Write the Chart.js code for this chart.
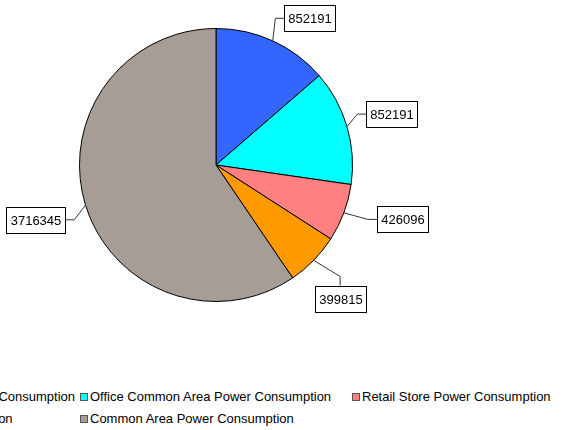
<!DOCTYPE html>
<html>
<head>
<meta charset="utf-8">
<script src="https://cdn.jsdelivr.net/npm/chart.js@4.4.1/dist/chart.umd.min.js"></script>
<style>
  html, body { margin: 0; padding: 0; background: #fff; overflow: hidden; }
  body { width: 563px; height: 430px; position: relative; }
  #pieChart { position: absolute; left: 0; top: 0; }
  .col { position: absolute; top: 386px; font-family: "Liberation Sans", Arial, sans-serif; font-size: 13px; color: #000; }
  .item { height: 22px; line-height: 22px; white-space: nowrap; }
  .box { display: inline-block; width: 6px; height: 6px; border: 1px solid #555; margin-right: 2px; }
</style>
</head>
<body>
<canvas id="pieChart" width="563" height="360"></canvas>
<div class="col" id="col1" style="right:488px"></div>
<div class="col" id="col2" style="left:80px"></div>
<div class="col" id="col3" style="left:352px"></div>
<script>
// Chart data
const labels = [
  "Office Tenant Area Power Consumption",
  "Office Common Area Power Consumption",
  "Retail Store Power Consumption",
  "Parking Power Consumption",
  "Common Area Power Consumption"
];
const values = [852191, 852191, 426096, 399815, 3716345];
const colors = ["#3366FF", "#00FFFF", "#FF8080", "#FF9900", "#A69E96"];

// legend layout: which column each entry goes into
const legendColumns = [1, 2, 3, 1, 2];
// how the leader line meets the value box, and a small nudge of the elbow
const labelJoin = ["h", "h", "h", "v", "h"];
const labelNudge = [[-4, -8], [-5, -8], [9, 1], [15, 5], [4, 10]];

// Build legend
labels.forEach((label, i) => {
  const col = document.getElementById("col" + legendColumns[i]);
  const item = document.createElement("div");
  item.className = "item";
  item.innerHTML = `<span class="box" style="background:${colors[i]}"></span>${label}`;
  col.appendChild(item);
});

// Plugin to draw boxed values with leader lines
const valueBoxes = {
  id: "valueBoxes",
  afterDatasetsDraw(chart) {
    const ctx = chart.ctx;
    const meta = chart.getDatasetMeta(0);
    ctx.save();
    ctx.font = "13px 'Liberation Sans', Arial, sans-serif";
    ctx.textBaseline = "middle";
    ctx.textAlign = "center";
    meta.data.forEach((arc, i) => {
      const { x, y, startAngle, endAngle, outerRadius } = arc.getProps(["x", "y", "startAngle", "endAngle", "outerRadius"], true);
      const mid = (startAngle + endAngle) / 2;
      const dx = Math.cos(mid);
      const dy = Math.sin(mid);
      const p0 = { x: x + outerRadius * dx, y: y + outerRadius * dy };
      const p1 = {
        x: x + (outerRadius + 16) * dx + labelNudge[i][0],
        y: y + (outerRadius + 16) * dy + labelNudge[i][1],
      };
      const text = String(values[i]);
      const w = Math.round(ctx.measureText(text).width) + 8;
      const h = 26;
      let p2, bx, by;
      if (labelJoin[i] === "v") {
        p2 = { x: p1.x, y: p1.y + 9 * Math.sign(dy) };
        bx = p2.x - w / 2;
        by = dy > 0 ? p2.y : p2.y - h;
      } else {
        p2 = { x: p1.x + 9 * Math.sign(dx), y: p1.y };
        bx = dx > 0 ? p2.x : p2.x - w;
        by = p2.y - h / 2;
      }
      bx = Math.round(bx) + 0.5;
      by = Math.round(by) + 0.5;
      ctx.strokeStyle = "#333";
      ctx.lineWidth = 1;
      ctx.beginPath();
      ctx.moveTo(p0.x, p0.y);
      ctx.lineTo(p1.x, p1.y);
      ctx.lineTo(p2.x, p2.y);
      ctx.stroke();
      ctx.fillStyle = "#fff";
      ctx.fillRect(bx, by, w, h);
      ctx.strokeStyle = "#000";
      ctx.strokeRect(bx, by, w, h);
      ctx.fillStyle = "#000";
      ctx.fillText(text, bx + w / 2, by + h / 2 + 1);
    });
    ctx.restore();
  }
};

const pieChart = new Chart(document.getElementById("pieChart"), {
  type: "pie",
  data: {
    labels: labels,
    datasets: [
      {
        data: values,
        backgroundColor: colors,
        borderColor: "#000",
        borderWidth: 1,
      },
    ],
  },
  options: {
    responsive: false,
    animation: false,
    devicePixelRatio: 1,
    layout: {
      padding: { left: 79, right: 210, top: 28, bottom: 58 },
    },
    plugins: {
      legend: { display: false },
      tooltip: { enabled: false },
    },
  },
  plugins: [valueBoxes],
});
</script>
</body>
</html>
